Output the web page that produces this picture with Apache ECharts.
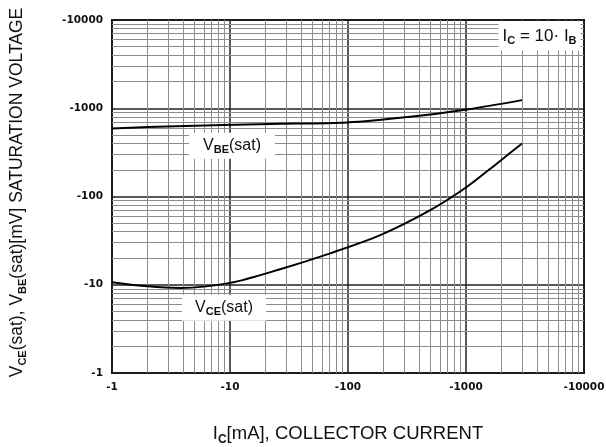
<!DOCTYPE html>
<html><head><meta charset="utf-8">
<script src="https://cdn.jsdelivr.net/npm/echarts@6/dist/echarts.min.js"></script>
<style>html,body{margin:0;padding:0;background:#fff}#c{width:606px;height:447px}</style>
</head><body><div id="c"></div>
<script>
// Data (absolute values; axis labels show the negative sign as in the reference)
const icVbe = [1, 3.5, 22, 98, 337, 1020, 2985];
const vbe   = [590, 627, 665, 690, 800, 969, 1236];
const icVce = [1, 2, 3.8, 10, 26.6, 70.6, 187.5, 498, 1020, 1830, 2985];
const vce   = [10.7, 9.6, 9.2, 10.5, 15, 22.7, 36.5, 70, 129, 237, 398];
const decades = [1, 10, 100, 1000];
const axisMin = 1, axisMax = 10000;

const minorVals = [];
decades.forEach(d => { for (let k = 2; k <= 9; k++) minorVals.push(k * d); });

const font = 'Liberation Sans, Arial, sans-serif';
const tickFont = 'DejaVu Sans, sans-serif';
function rich(size, subSize) {
  return {
    a: {fontSize: size, fontFamily: font, color: '#111', lineHeight: size + 4},
    s: {fontSize: subSize, fontFamily: font, color: '#111', fontWeight: 'bold', verticalAlign: 'bottom', lineHeight: subSize + 4}
  };
}

const chart = echarts.init(document.getElementById('c'), null, {renderer: 'canvas'});
chart.setOption({
  animation: false,
  backgroundColor: '#fff',
  grid: {left: 112, right: 22, top: 20, bottom: 74, containLabel: false, outerBoundsMode: 'none',
         show: true, borderColor: '#111', borderWidth: 2, backgroundColor: 'transparent'},
  xAxis: {
    type: 'log', min: axisMin, max: axisMax, logBase: 10,
    axisLine: {show: false}, axisTick: {show: false},
    splitLine: {show: true, lineStyle: {color: '#222', width: 1.5}},
    axisLabel: {formatter: v => '-' + v, fontFamily: tickFont, fontWeight: 'bold', fontSize: 10.5, color: '#111', margin: 9},
    name: '{a|I}{s|C}{a|[mA], COLLECTOR CURRENT}',
    nameLocation: 'middle', nameGap: 50,
    nameTextStyle: {rich: rich(18.5, 12)}
  },
  yAxis: {
    type: 'log', min: axisMin, max: axisMax, logBase: 10,
    axisLine: {show: false}, axisTick: {show: false},
    splitLine: {show: true, lineStyle: {color: '#222', width: 1.5}},
    axisLabel: {formatter: v => '-' + v, fontFamily: tickFont, fontWeight: 'bold', fontSize: 10.5, color: '#111', margin: 9},
    name: '{a|V}{s|CE}{a|(sat), V}{s|BE}{a|(sat)[mV] SATURATION VOLTAGE}',
    nameLocation: 'middle', nameGap: 84,
    nameTextStyle: {rich: rich(17.5, 11), padding: [0, 0, 0, 8]}
  },
  series: [
    {
      type: 'line', data: [], silent: true, z: 1,
      markLine: {
        silent: true, symbol: 'none', label: {show: false},
        lineStyle: {color: '#8c8c8c', width: 1, type: 'solid'},
        data: minorVals.map(v => ({xAxis: v})).concat(minorVals.map(v => ({yAxis: v})))
      }
    },
    {
      type: 'line', name: 'VBE(sat)', data: icVbe.map((x, i) => [x, vbe[i]]),
      smooth: 0.3, showSymbol: false, lineStyle: {color: '#000', width: 2}, z: 5,
      markPoint: {
        symbol: 'circle', symbolSize: 0, itemStyle: {color: 'transparent'},
        label: {show: true, position: 'inside', formatter: '{a|V}{s|BE}{a|(sat)}', rich: rich(16, 11),
                backgroundColor: '#fff', padding: [3, 14, 3, 14]},
        data: [{coord: [10.4, 375]}]
      }
    },
    {
      type: 'line', name: 'VCE(sat)', data: icVce.map((x, i) => [x, vce[i]]),
      smooth: 0.3, showSymbol: false, lineStyle: {color: '#000', width: 2}, z: 5,
      markPoint: {
        symbol: 'circle', symbolSize: 0, itemStyle: {color: 'transparent'},
        label: {show: true, position: 'inside', formatter: '{a|V}{s|CE}{a|(sat)}', rich: rich(16, 11),
                backgroundColor: '#fff', padding: [3, 13, 3, 13]},
        data: [{coord: [8.9, 5.5]}]
      }
    },
    {
      type: 'line', data: [], silent: true, z: 6,
      markPoint: {
        symbol: 'circle', symbolSize: 0, itemStyle: {color: 'transparent'},
        label: {show: true, position: 'inside', formatter: '{a|I}{s|C}{a| = 10· I}{s|B}', rich: rich(17, 11),
                backgroundColor: '#fff', padding: [4, 4, 4, 4]},
        data: [{coord: [4200, 6600]}]
      }
    }
  ]
});
</script></body></html>
